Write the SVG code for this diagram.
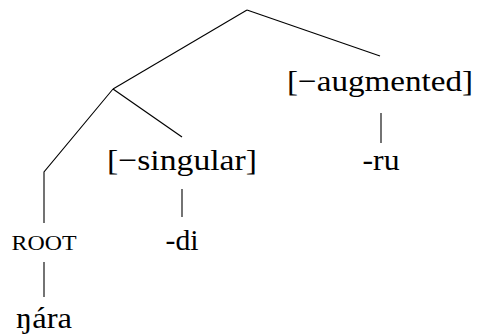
<svg xmlns="http://www.w3.org/2000/svg" width="477" height="336" viewBox="0 0 477 336">
<style>
text{font-family:"Liberation Serif",serif;font-size:30px;fill:#000;text-anchor:middle}
.sc{font-size:22px}
.e{stroke:#000;stroke-width:1.1;fill:none}
</style>
<rect width="477" height="336" fill="#fff"/>
<g id="edges">
<line class="e" x1="247" y1="10" x2="113" y2="89"/>
<line class="e" x1="247" y1="10" x2="380" y2="56"/>
<polyline class="e" points="113,89 44,172 44,223"/>
<line class="e" x1="113" y1="89" x2="182" y2="137"/>
<line class="e" x1="381" y1="113" x2="381" y2="143"/>
<line class="e" x1="182" y1="189" x2="182" y2="217"/>
<line class="e" x1="44" y1="262" x2="44" y2="297"/>
</g>
<g id="aug"><text x="380" y="91" textLength="186" lengthAdjust="spacingAndGlyphs">[−augmented]</text></g>
<g id="ru"><text x="381" y="170" textLength="37" lengthAdjust="spacingAndGlyphs">-ru</text></g>
<g id="sing"><text x="182" y="170" textLength="150" lengthAdjust="spacingAndGlyphs">[−singular]</text></g>
<g id="di"><text x="182" y="250" textLength="33" lengthAdjust="spacingAndGlyphs">-di</text></g>
<g id="root"><text class="sc" x="44" y="250" textLength="65" lengthAdjust="spacingAndGlyphs">ROOT</text></g>
<g id="nara"><text x="44" y="328" textLength="56" lengthAdjust="spacingAndGlyphs">ŋára</text></g>
</svg>
